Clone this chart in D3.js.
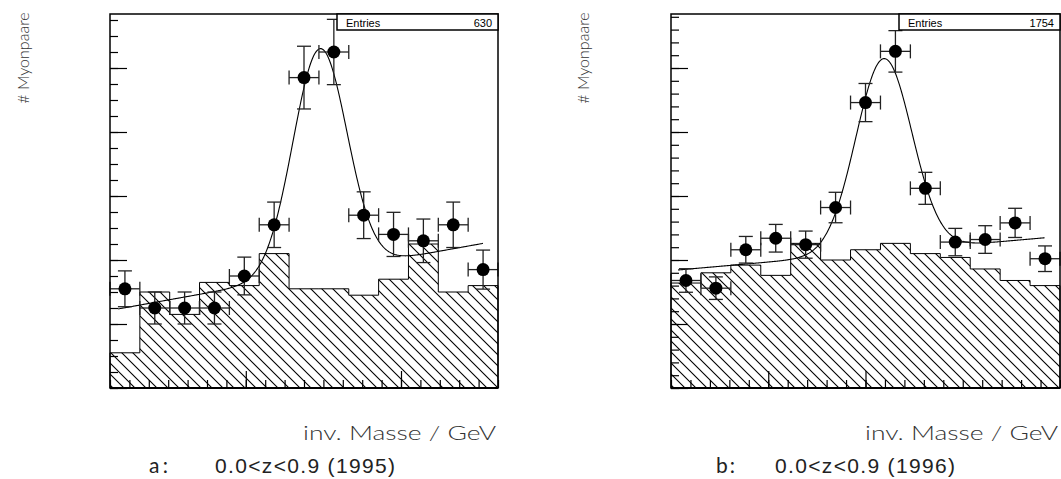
<!DOCTYPE html>
<html>
<head>
<meta charset="utf-8">
<script src="https://cdn.jsdelivr.net/npm/d3@7"></script>
<style>
body{margin:0;background:#fff;}
svg{display:block;}
.thin{font-family:"Lato","DejaVu Sans",sans-serif;font-weight:300;fill:#333;}
.tag{font-family:"Lato","DejaVu Sans",sans-serif;font-weight:400;fill:#222;}
.arial{font-family:"Liberation Sans",Arial,sans-serif;fill:#222;}
</style>
</head>
<body>
<svg width="1061" height="479"></svg>
<script>
// bin centres in GeV (13 bins of 0.2)
var massBins = [1.8,2.0,2.2,2.4,2.6,2.8,3.0,3.2,3.4,3.6,3.8,4.0,4.2];
var massRange = [1.7,4.3];
var binHalf = 0.1;

// 1995
var counts95 = [31,25,25,25,35,51,97,105,54,48,46,51,37];
var errs95   = [5.6,5.0,5.0,5.0,5.9,7.1,9.8,10.2,7.3,6.9,6.8,7.1,6.1];
var back95   = [11,30,23,33,32,42,31,31,29,34,45,30,32];
var fit95    = [10.0, 8.38, 70, 3.107, 0.181];   // p0, p1, amp, mean, sigma
var fitRange95 = [1.754, 4.2];

// 1996
var counts96 = [84,78,108,117,112,141,223,263,156,114,116,129,101];
var errs96   = [9.2,8.8,10.4,10.8,10.6,11.9,14.9,16.2,12.5,10.7,10.8,11.4,10.0];
var back96   = [82,90,96,88,113,100,108,113,105,102,93,84,80];
var fit96    = [74.26, 10.27, 151, 3.123, 0.187];
var fitRange96 = [1.747, 4.2];

var svg = d3.select("svg");

// hatch pattern
var defs = svg.append("defs");
var pat = defs.append("pattern")
  .attr("id","hatch")
  .attr("patternUnits","userSpaceOnUse")
  .attr("width",11).attr("height",11);
pat.append("path")
  .attr("d","M0,0L11,11M-5.5,5.5L5.5,16.5M5.5,-5.5L16.5,5.5")
  .attr("stroke","#000").attr("stroke-width",1.1);

function panel(opt){
  var x = d3.scaleLinear().domain(massRange).range([opt.left, opt.left+opt.width]);
  var y = d3.scaleLinear().domain([0, opt.ymax]).range([opt.top+opt.height, opt.top]);
  var g = svg.append("g");

  // background histogram (hatched)
  var edges = massBins.map(function(m){return m-binHalf;});
  var steps = edges.map(function(e,i){return [e, opt.back[i]];});
  steps.push([massBins[massBins.length-1]+binHalf, opt.back[opt.back.length-1]]);
  var area = d3.area().curve(d3.curveStepAfter)
    .x(function(d){return x(d[0]);})
    .y0(y(0)).y1(function(d){return y(d[1]);});
  g.append("path").attr("d",area(steps))
    .attr("fill","url(#hatch)").attr("stroke","#000").attr("stroke-width",1);

  // fit: linear background + gaussian
  var p = opt.fit;
  var fx = d3.range(opt.fitRange[0], opt.fitRange[1]+0.001, 0.005);
  var line = d3.line()
    .x(function(m){return x(m);})
    .y(function(m){
      var z = (m-p[3])/p[4];
      return y(p[0]+p[1]*m + p[2]*Math.exp(-0.5*z*z));
    });
  g.append("path").attr("d",line(fx))
    .attr("fill","none").attr("stroke","#000").attr("stroke-width",1.1);

  // error bars
  var cap = 7;
  var eb = g.append("g").attr("stroke","#222").attr("stroke-width",1.3);
  massBins.forEach(function(m,i){
    var cx = x(m), cy = y(opt.counts[i]);
    var yt = y(opt.counts[i]+opt.errs[i]), yb = y(opt.counts[i]-opt.errs[i]);
    var xl = x(m-binHalf), xr = x(m+binHalf);
    eb.append("line").attr("x1",cx).attr("x2",cx).attr("y1",yt).attr("y2",yb);
    eb.append("line").attr("x1",cx-cap).attr("x2",cx+cap).attr("y1",yt).attr("y2",yt);
    eb.append("line").attr("x1",cx-cap).attr("x2",cx+cap).attr("y1",yb).attr("y2",yb);
    eb.append("line").attr("x1",xl).attr("x2",xr).attr("y1",cy).attr("y2",cy);
    eb.append("line").attr("x1",xl).attr("x2",xl).attr("y1",cy-cap).attr("y2",cy+cap);
    eb.append("line").attr("x1",xr).attr("x2",xr).attr("y1",cy-cap).attr("y2",cy+cap);
  });
  g.selectAll("circle.pt").data(massBins).enter().append("circle")
    .attr("class","pt")
    .attr("cx",function(m){return x(m);})
    .attr("cy",function(m,i){return y(opt.counts[i]);})
    .attr("r",6.5).attr("fill","#000");

  // axes (ticks inside the frame)
  function noDomain(s){ s.select(".domain").remove(); s.selectAll("line").attr("stroke","#000").attr("stroke-width",1.2); }
  g.append("g").attr("transform","translate("+opt.left+",0)")
    .call(d3.axisLeft(y).tickValues(opt.yMinor).tickSize(-8).tickFormat("")).call(noDomain);
  g.append("g").attr("transform","translate("+opt.left+",0)")
    .call(d3.axisLeft(y).tickValues(opt.yMajor).tickSize(-17).tickFormat("")).call(noDomain);
  g.append("g").attr("transform","translate(0,"+(opt.top+opt.height)+")")
    .call(d3.axisBottom(x).tickValues(opt.xMinor).tickSize(-8).tickFormat("")).call(noDomain);
  g.append("g").attr("transform","translate(0,"+(opt.top+opt.height)+")")
    .call(d3.axisBottom(x).tickValues(opt.xMajor).tickSize(-17).tickFormat("")).call(noDomain);

  // frame
  g.append("rect").attr("x",opt.left).attr("y",opt.top)
    .attr("width",opt.width).attr("height",opt.height)
    .attr("fill","none").attr("stroke","#000").attr("stroke-width",1.5);
  g.append("line").attr("x1",opt.left).attr("x2",opt.left+opt.width)
    .attr("y1",opt.top+opt.height).attr("y2",opt.top+opt.height)
    .attr("stroke","#000").attr("stroke-width",2.2);

  // stats box
  var bx = opt.left+opt.width-161;
  g.append("rect").attr("x",bx).attr("y",opt.top).attr("width",161).attr("height",16)
    .attr("fill","#fff").attr("stroke","#000").attr("stroke-width",1.5);
  g.append("text").attr("x",bx+9).attr("y",opt.top+12.5)
    .attr("font-family","Liberation Sans, Arial, sans-serif").attr("font-size",11).text("Entries");
  g.append("text").attr("x",opt.left+opt.width-6).attr("y",opt.top+12.5).attr("text-anchor","end")
    .attr("font-family","Liberation Sans, Arial, sans-serif").attr("font-size",11).text(opt.entries);

  // labels
  svg.append("text").attr("class","thin")
    .attr("transform","translate("+opt.ylabX+",58) rotate(-90)")
    .attr("text-anchor","middle").attr("font-size",16)
    .text("# Myonpaare");
  svg.append("text").attr("class","thin")
    .attr("x",opt.left+opt.width-195).attr("y",440).attr("font-size",19)
    .attr("textLength",193).attr("lengthAdjust","spacingAndGlyphs")
    .text("inv. Masse / GeV");
  svg.append("text").attr("class","tag")
    .attr("x",opt.tagX).attr("y",473).attr("font-size",21)
    .attr("textLength",19).attr("lengthAdjust","spacing").text(opt.tag);
  svg.append("text").attr("class","arial")
    .attr("x",opt.capX).attr("y",473).attr("font-size",21)
    .attr("textLength",180).attr("lengthAdjust","spacing")
    .text(opt.caption);
}

var xTicks = d3.range(21).map(function(i){return massRange[0]+i*0.13;});

panel({
  left:110, top:14, width:388, height:374, ymax:116.875,
  counts:counts95, errs:errs95, back:back95, fit:fit95, fitRange:fitRange95,
  yMinor:d3.range(0,117,5), yMajor:d3.range(0,117,20),
  xMinor:xTicks, xMajor:[xTicks[7],xTicks[15]],
  entries:"630", ylabX:29, tag:"a:", tagX:149, capX:215, caption:"0.0<z<0.9 (1995)"
});
panel({
  left:671, top:14, width:389, height:374, ymax:292.19,
  counts:counts96, errs:errs96, back:back96, fit:fit96, fitRange:fitRange96,
  yMinor:d3.range(0,293,10), yMajor:d3.range(0,293,50),
  xMinor:xTicks, xMajor:[xTicks[5],xTicks[10]],
  entries:"1754", ylabX:589, tag:"b:", tagX:716, capX:775, caption:"0.0<z<0.9 (1996)"
});
</script>
</body>
</html>
